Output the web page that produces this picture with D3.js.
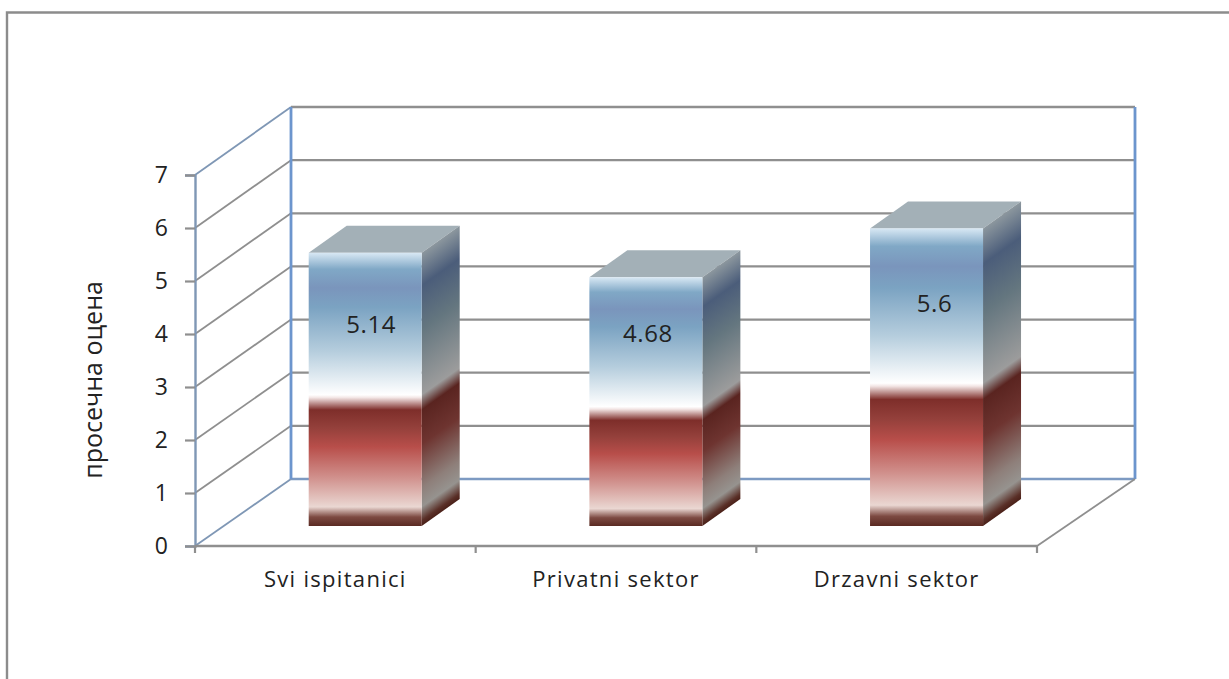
<!DOCTYPE html>
<html>
<head>
<meta charset="utf-8">
<script src="https://cdn.jsdelivr.net/npm/d3@7"></script>
<style>
html,body{margin:0;padding:0;background:#fff}
svg{display:block}
text{font-family:"Open Sans",sans-serif;fill:#222}
</style>
</head>
<body>
<svg id="chart" width="1229" height="679"></svg>
<script>
const categories = ["Svi ispitanici", "Privatni sektor", "Drzavni sektor"];
const values = [5.14, 4.68, 5.6];
const valueLabels = ["5.14", "4.68", "5.6"];
const yTicks = [0, 1, 2, 3, 4, 5, 6, 7];
const yTitle = "просечна оцена";

const frontStops = [
  [0, "#d8e8f4"], [0.06, "#80a8c6"], [0.128, "#7a95bc"], [0.2, "#7ba3c2"],
  [0.36, "#b5cddd"], [0.52, "#ffffff"], [0.53, "#f3e6e5"], [0.575, "#7e2e2a"],
  [0.64, "#94403b"], [0.71, "#b84e4a"], [0.82, "#d08f8b"], [0.93, "#ead7d2"],
  [0.967, "#7d4a42"], [1, "#5a2a22"]
];
const sideStops = [
  [0, "#8c979e"], [0.12, "#4b5d7a"], [0.28, "#64767f"], [0.52, "#9c9c9c"],
  [0.575, "#5a2420"], [0.7, "#6e3430"], [0.86, "#8e7f7a"], [0.93, "#96938f"],
  [0.98, "#5a3028"], [1, "#4a2018"]
];

const svg = d3.select("#chart");
const defs = svg.append("defs");

// Front plane of the box and the back wall, sharing one value domain
const yFront = d3.scaleLinear().domain([0, 7]).range([546, 175]);
const yBack = d3.scaleLinear().domain([0, 7]).range([479, 107]);
const x = d3.scaleBand().domain(categories).range([195, 1037]);
const depthX = 96;
const backRight = x.range()[1] + depthX + 2;

// Bars stand on the floor, part way into the box
const yBar = d3.scaleLinear().domain([0, 7]).range([526, 154]);
const barInset = 113.7, barW = 113, barDX = 38, barDY = 27;

// Chart frame
svg.append("path").attr("d", "M7,679V12.5H1229").attr("fill", "none")
  .attr("stroke", "#8c8c8c").attr("stroke-width", 2.4);

// Back wall gridlines
const gridColor = "#8f8f8f", wallBlue = "#6c95cd", edgeBlue = "#7f97b5";
svg.append("g").selectAll("line").data(yTicks).join("line")
  .attr("x1", x.range()[0] + depthX).attr("x2", backRight)
  .attr("y1", d => yBack(d)).attr("y2", d => yBack(d))
  .attr("stroke", d => d === 0 ? "#7d9ac2" : gridColor)
  .attr("stroke-width", 2.3);

// Side wall gridlines running from front axis to back wall
svg.append("g").selectAll("line").data(yTicks).join("line")
  .attr("x1", x.range()[0]).attr("x2", x.range()[0] + depthX)
  .attr("y1", d => yFront(d)).attr("y2", d => yBack(d))
  .attr("stroke", d => (d === 0 || d === 7) ? edgeBlue : gridColor)
  .attr("stroke-width", 1.8);

// Back wall verticals and the right floor edge
[x.range()[0] + depthX, backRight].forEach(px => {
  svg.append("line").attr("x1", px).attr("x2", px)
    .attr("y1", yBack(7)).attr("y2", yBack(0))
    .attr("stroke", wallBlue).attr("stroke-width", 2.8);
});
svg.append("line").attr("x1", x.range()[1]).attr("x2", backRight)
  .attr("y1", yFront(0)).attr("y2", yBack(0))
  .attr("stroke", gridColor).attr("stroke-width", 1.8);

// Value axis
const yAxis = svg.append("g").attr("transform", `translate(${x.range()[0]},0)`)
  .call(d3.axisLeft(yFront).tickValues(yTicks).tickSize(10).tickPadding(17).tickFormat(d3.format("d")));
yAxis.select(".domain").attr("stroke", edgeBlue).attr("stroke-width", 2.4);
yAxis.selectAll(".tick line").attr("stroke", gridColor).attr("stroke-width", 2.2);
yAxis.selectAll("text").attr("font-size", 23).attr("font-family", "'Open Sans',sans-serif").attr("fill", "#222");

// Category axis with ticks on band edges
const xEdges = categories.map(c => x(c)).concat(x.range()[1]);
svg.append("line").attr("x1", x.range()[0]).attr("x2", x.range()[1])
  .attr("y1", yFront(0)).attr("y2", yFront(0))
  .attr("stroke", gridColor).attr("stroke-width", 2.4);
svg.append("g").selectAll("line").data(xEdges).join("line")
  .attr("x1", d => d).attr("x2", d => d)
  .attr("y1", yFront(0)).attr("y2", yFront(0) + 7)
  .attr("stroke", gridColor).attr("stroke-width", 2.2);
svg.append("g").selectAll("text").data(categories).join("text")
  .attr("x", d => x(d) + x.bandwidth() / 2)
  .attr("y", 587).attr("text-anchor", "middle").attr("font-size", 22)
  .attr("letter-spacing", 1.3)
  .text(d => d);

// Axis title
svg.append("text")
  .attr("transform", "translate(102,380) rotate(-90)")
  .attr("text-anchor", "middle").attr("font-size", 25)
  .text(yTitle);

// Gradients follow the bar height; the side one is sheared along the depth edge
function addStops(grad, stops) {
  grad.selectAll("stop").data(stops).join("stop")
    .attr("offset", d => d[0]).attr("stop-color", d => d[1]);
}

const bars = categories.map((c, i) => ({
  c, i, v: values[i], label: valueLabels[i],
  x0: x(c) + barInset, top: yBar(values[i]), base: yBar(0)
}));

bars.forEach(b => {
  addStops(defs.append("linearGradient").attr("id", `front${b.i}`)
    .attr("x1", 0).attr("x2", 0).attr("y1", 0).attr("y2", 1), frontStops);
  const xr = b.x0 + barW, shear = barDY / barDX;
  addStops(defs.append("linearGradient").attr("id", `side${b.i}`)
    .attr("gradientUnits", "userSpaceOnUse")
    .attr("x1", xr).attr("x2", xr).attr("y1", b.top).attr("y2", b.base)
    .attr("gradientTransform", `matrix(1 ${-shear} 0 1 0 ${shear * xr})`), sideStops);
});

const g = svg.append("g").selectAll("g").data(bars).join("g");
g.append("polygon").attr("fill", "#a3b0b7")
  .attr("points", b => [[b.x0, b.top], [b.x0 + barDX, b.top - barDY], [b.x0 + barW + barDX, b.top - barDY], [b.x0 + barW, b.top]].join(" "));
g.append("polygon").attr("fill", b => `url(#side${b.i})`)
  .attr("points", b => [[b.x0 + barW, b.top], [b.x0 + barW + barDX, b.top - barDY], [b.x0 + barW + barDX, b.base - barDY], [b.x0 + barW, b.base]].join(" "));
g.append("rect").attr("fill", b => `url(#front${b.i})`)
  .attr("x", b => b.x0).attr("y", b => b.top)
  .attr("width", barW).attr("height", b => b.base - b.top);

// Value labels sit by hand inside each bar's front face
const labelNudge = [[6, 80], [2, 65], [8, 84]];
g.append("text")
  .attr("x", b => b.x0 + barW / 2 + labelNudge[b.i][0])
  .attr("y", b => b.top + labelNudge[b.i][1]).attr("text-anchor", "middle")
  .attr("font-size", 24).attr("letter-spacing", 0.6)
  .text(b => b.label);
</script>
</body>
</html>
